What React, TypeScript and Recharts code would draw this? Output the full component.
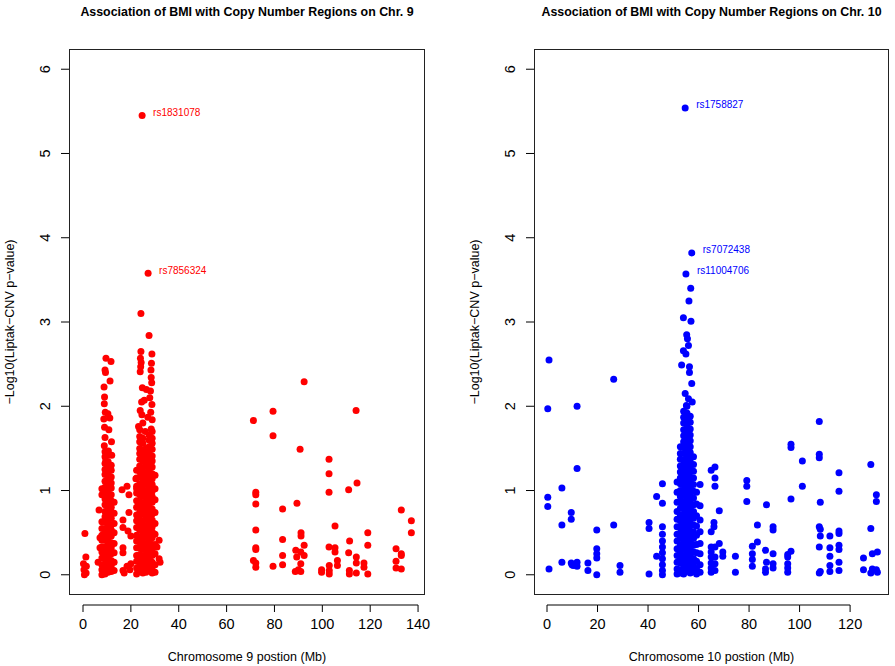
import React from "react"
import { ScatterChart, Scatter, XAxis, YAxis } from "recharts"

// ---- Chr. 9 (position in Mb, -log10 p) ----
const chr9Scattered: [number, number][] = [
  [0.8, 0.49], [1.2, 0.21], [0.2, 0.13], [1.4, 0.1], [0.4, 0.06], [1.3, 0.02], [0.6, 0.0],
  [6.7, 0.77], [7.1, 0.44], [7.1, 0.32], [6.3, 0.15],
  [16.3, 1.01], [18.4, 1.05], [19.2, 0.95], [19.2, 0.74], [16.7, 0.65], [16.7, 0.56], [18.8, 0.52],
  [20.0, 0.46], [16.7, 0.32], [16.7, 0.26], [20.0, 0.13], [18.4, 0.1], [16.7, 0.05], [17.2, 0.02], [19.6, 0.06],
  [31.8, 0.41], [31.8, 0.19], [32.2, 0.15], [30.9, 0.33],
  // column 1 upper tail
  [9.6, 2.57], [11.7, 2.53], [9.2, 2.43], [9.4, 2.4], [11.3, 2.3], [8.8, 2.23], [9.0, 2.11], [8.9, 2.03],
  [9.3, 1.93], [10.4, 1.91], [11.2, 1.86], [8.7, 1.85], [9.0, 1.75], [10.8, 1.72], [9.2, 1.63], [11.9, 1.58],
  [8.9, 1.53], [10.6, 1.47], [12.0, 1.42], [9.5, 1.35],
  // column 2 upper tail
  [24.2, 3.1], [27.6, 2.84],
  [24.2, 2.65], [28.8, 2.62], [24.0, 2.57], [24.3, 2.52], [28.6, 2.51], [24.1, 2.47], [28.4, 2.43], [23.9, 2.41],
  [28.5, 2.34], [28.7, 2.28], [24.8, 2.22], [26.5, 2.2], [28.2, 2.18], [27.9, 2.1], [25.6, 2.07], [24.5, 2.05],
  [28.8, 2.02], [23.9, 1.95], [28.3, 1.93], [24.6, 1.9], [27.1, 1.87], [28.9, 1.84], [25.0, 1.8], [23.2, 1.76],
  [28.5, 1.73], [26.0, 1.7], [22.1, 1.14], [22.4, 1.02],
  // 70 - 140 Mb
  [92.4, 2.29], [79.4, 1.94], [114.1, 1.95], [71.2, 1.83], [79.4, 1.65], [90.7, 1.49], [102.8, 1.37],
  [102.8, 1.2], [102.8, 0.98], [114.5, 1.09], [111.0, 1.01], [72.2, 0.98], [72.2, 0.95], [72.2, 0.84],
  [83.4, 0.78], [89.4, 0.85], [133.0, 0.77], [137.2, 0.64], [137.2, 0.5], [72.2, 0.53], [83.4, 0.42],
  [105.3, 0.58], [91.1, 0.5], [91.1, 0.46], [92.4, 0.35], [119.0, 0.5], [119.0, 0.35], [111.4, 0.4],
  [72.2, 0.32], [72.2, 0.3], [102.8, 0.33], [105.3, 0.32], [105.3, 0.27], [111.0, 0.26], [83.4, 0.23],
  [88.9, 0.29], [91.0, 0.27], [92.4, 0.23], [130.8, 0.31], [133.0, 0.25], [133.0, 0.23], [89.3, 0.21],
  [114.2, 0.21], [71.2, 0.17], [72.2, 0.14], [72.2, 0.09], [79.4, 0.1], [83.4, 0.12], [91.0, 0.13],
  [106.3, 0.17], [106.3, 0.11], [114.2, 0.14], [117.4, 0.14], [117.4, 0.09], [130.8, 0.16], [130.8, 0.08],
  [133.0, 0.07], [99.7, 0.06], [99.7, 0.03], [102.9, 0.11], [102.9, 0.05], [102.9, 0.01], [111.3, 0.05],
  [111.3, 0.01], [114.2, 0.02], [119.0, 0.01], [88.7, 0.04], [91.0, 0.04], [90.0, 0.06],
]

// dense core around 8-13 Mb
const chr9Core1X = [7.9, 9.2, 10.5, 11.8, 13.0]
const chr9Core1Y = [
  [1.02, 0.95, 0.63, 0.55, 0.47, 0.41, 0.33, 0.27, 0.2, 0.12, 0.06, 0.0],
  [1.46, 1.4, 1.32, 1.25, 1.19, 1.11, 1.04, 0.96, 0.9, 0.83, 0.75, 0.69, 0.62, 0.54, 0.48, 0.41, 0.33, 0.27, 0.2, 0.13, 0.06, 0.01],
  [1.42, 1.34, 1.28, 1.21, 1.13, 1.07, 1.0, 0.92, 0.86, 0.79, 0.71, 0.65, 0.58, 0.5, 0.44, 0.37, 0.29, 0.23, 0.16, 0.09, 0.03],
  [1.3, 1.24, 1.16, 1.09, 1.03, 0.95, 0.88, 0.8, 0.74, 0.67, 0.59, 0.53, 0.46, 0.38, 0.32, 0.25, 0.17, 0.11, 0.04],
  [0.86, 0.73, 0.61, 0.5, 0.37, 0.26, 0.15, 0.05],
]

// dense core around 22-30 Mb
const chr9Core2X = [22.4, 23.7, 25.0, 26.3, 27.6, 28.9, 30.1]
const chr9Core2Y = [
  [1.24, 1.15, 1.05, 0.97, 0.88, 0.8, 0.71, 0.64, 0.56, 0.47, 0.4, 0.32, 0.23, 0.16, 0.08, 0.01],
  [1.72, 1.64, 1.58, 1.5, 1.44, 1.37, 1.29, 1.23, 1.16, 1.08, 1.02, 0.95, 0.87, 0.81, 0.74, 0.66, 0.6, 0.53, 0.45, 0.39, 0.32, 0.24, 0.18, 0.11, 0.04],
  [1.62, 1.56, 1.48, 1.41, 1.35, 1.27, 1.2, 1.14, 1.06, 0.99, 0.93, 0.85, 0.78, 0.72, 0.64, 0.57, 0.51, 0.43, 0.36, 0.3, 0.22, 0.15, 0.08, 0.02],
  [1.5, 1.42, 1.36, 1.29, 1.21, 1.15, 1.08, 1.0, 0.94, 0.87, 0.79, 0.73, 0.66, 0.58, 0.52, 0.45, 0.37, 0.31, 0.24, 0.16, 0.1, 0.03],
  [1.66, 1.6, 1.52, 1.45, 1.39, 1.31, 1.24, 1.18, 1.1, 1.03, 0.97, 0.89, 0.82, 0.76, 0.68, 0.61, 0.55, 0.47, 0.4, 0.34, 0.26, 0.19, 0.12, 0.05],
  [1.7, 1.62, 1.56, 1.49, 1.41, 1.35, 1.28, 1.2, 1.14, 1.07, 0.99, 0.93, 0.86, 0.78, 0.72, 0.65, 0.57, 0.51, 0.44, 0.36, 0.3, 0.23, 0.15, 0.09, 0.02],
  [1.18, 1.02, 0.89, 0.74, 0.61, 0.48, 0.36, 0.25, 0.12, 0.03],
]

const chr9Hits = [
  { snp: "rs1831078", x: 24.7, y: 5.45 },
  { snp: "rs7856324", x: 27.2, y: 3.58 },
]

// ---- Chr. 10 ----
const chr10Scattered: [number, number][] = [
  [0.8, 2.55], [0.3, 1.97], [11.9, 2.0], [26.4, 2.32], [11.9, 1.26], [5.9, 1.03], [0.3, 0.92], [0.3, 0.81],
  [9.6, 0.74], [9.6, 0.66], [5.9, 0.59], [26.4, 0.59], [19.7, 0.53], [19.7, 0.31], [19.7, 0.25], [19.7, 0.2],
  [0.8, 0.07], [5.9, 0.15], [9.6, 0.14], [10.4, 0.11], [11.9, 0.15], [11.9, 0.1], [16.2, 0.14], [16.2, 0.05],
  [19.7, 0.0], [28.9, 0.11], [28.9, 0.03], [9.9, 0.12],
  [40.4, 0.62], [40.4, 0.55], [40.4, 0.01], [43.4, 0.93], [43.4, 0.22],
  [45.7, 1.08], [45.7, 0.85], [45.7, 0.57], [45.7, 0.48], [45.7, 0.4], [45.7, 0.33], [45.7, 0.26], [45.7, 0.19],
  [45.7, 0.12], [45.7, 0.05], [45.7, 0.0],
  // cluster upper tail
  [56.9, 3.4], [56.2, 3.25], [54.0, 3.05], [57.0, 3.01], [55.3, 2.85], [55.6, 2.8], [56.0, 2.72], [54.0, 2.66],
  [55.0, 2.62], [53.3, 2.49], [56.4, 2.47], [56.4, 2.4], [57.3, 2.27], [54.7, 2.15], [56.0, 2.09], [57.5, 2.05],
  [55.2, 2.01],
  // right of cluster
  [60.6, 1.07], [60.6, 0.82], [60.6, 0.65], [60.6, 0.51], [60.6, 0.37], [60.6, 0.25], [60.6, 0.12], [60.6, 0.03],
  [65.0, 1.24], [66.5, 1.28], [66.5, 1.15], [66.5, 1.05], [68.2, 0.76], [66.1, 0.62], [66.1, 0.57], [65.0, 0.51],
  [68.2, 0.37], [65.0, 0.33], [66.5, 0.33], [65.0, 0.27], [65.0, 0.21], [65.0, 0.14], [65.0, 0.08], [65.0, 0.03],
  [66.5, 0.21], [66.5, 0.13], [66.5, 0.05], [69.6, 0.27], [69.6, 0.22],
  [74.6, 0.22], [74.6, 0.03], [79.1, 1.12], [79.1, 1.05], [79.1, 0.87],
  [81.3, 0.34], [81.3, 0.25], [81.3, 0.18], [81.3, 0.1], [83.3, 0.59], [83.3, 0.39],
  [86.9, 0.83], [86.5, 0.29], [86.9, 0.15], [86.5, 0.07], [86.5, 0.03],
  [89.5, 0.57], [89.5, 0.53], [89.5, 0.25], [89.5, 0.13], [89.5, 0.08],
  [95.3, 0.24], [95.3, 0.21], [95.3, 0.13], [95.3, 0.08], [95.3, 0.03], [96.6, 0.28], [96.6, 0.9],
  [96.6, 1.55], [96.6, 1.51], [101.1, 1.35], [101.1, 1.05],
  [107.8, 1.82], [107.8, 1.43], [107.8, 1.39], [108.2, 0.86], [107.8, 0.57], [108.2, 0.54], [108.2, 0.46],
  [107.8, 0.33], [108.2, 0.04], [107.8, 0.02],
  [112.0, 0.46], [112.0, 0.32], [112.0, 0.22], [112.0, 0.11], [112.0, 0.04],
  [115.6, 1.21], [115.6, 0.99], [115.6, 0.52], [115.6, 0.49], [115.6, 0.35], [115.6, 0.3], [115.6, 0.15], [115.6, 0.05],
  [125.3, 0.2], [125.3, 0.06], [128.2, 1.31], [128.2, 0.55], [128.8, 0.25], [130.8, 0.27], [130.4, 0.95],
  [130.4, 0.87], [128.8, 0.07], [128.2, 0.02], [130.4, 0.06], [130.8, 0.03],
]

// dense core around 52-59 Mb
const chr10CoreX = [51.5, 52.8, 54.1, 55.4, 56.7, 58.0, 59.2]
const chr10CoreY = [
  [1.1, 0.98, 0.86, 0.75, 0.66, 0.57, 0.48, 0.4, 0.31, 0.23, 0.15, 0.07, 0.01],
  [1.52, 1.44, 1.37, 1.29, 1.22, 1.15, 1.08, 1.0, 0.93, 0.86, 0.79, 0.71, 0.64, 0.57, 0.5, 0.43, 0.35, 0.28, 0.21, 0.14, 0.06, 0.02],
  [1.94, 1.87, 1.8, 1.72, 1.65, 1.58, 1.51, 1.44, 1.36, 1.29, 1.22, 1.15, 1.08, 1.01, 0.94, 0.86, 0.79, 0.72, 0.65, 0.58, 0.51, 0.44, 0.37, 0.3, 0.22, 0.15, 0.08, 0.01],
  [2.0, 1.92, 1.85, 1.77, 1.7, 1.63, 1.56, 1.49, 1.41, 1.34, 1.27, 1.2, 1.13, 1.06, 0.98, 0.91, 0.84, 0.77, 0.7, 0.63, 0.55, 0.48, 0.41, 0.34, 0.27, 0.19, 0.12, 0.05],
  [1.88, 1.81, 1.73, 1.66, 1.59, 1.52, 1.45, 1.37, 1.3, 1.23, 1.16, 1.09, 1.02, 0.95, 0.88, 0.8, 0.73, 0.66, 0.59, 0.52, 0.45, 0.38, 0.3, 0.23, 0.16, 0.09, 0.02],
  [1.4, 1.31, 1.23, 1.15, 1.07, 0.99, 0.91, 0.83, 0.75, 0.67, 0.59, 0.51, 0.43, 0.35, 0.27, 0.19, 0.11, 0.04],
  [0.98, 0.84, 0.7, 0.58, 0.47, 0.36, 0.26, 0.16, 0.07, 0.01],
]

const chr10Hits = [
  { snp: "rs1758827", x: 54.7, y: 5.54 },
  { snp: "rs7072438", x: 57.3, y: 3.82 },
  { snp: "rs11004706", x: 55.0, y: 3.57 },
]

const yTicks = [0, 1, 2, 3, 4, 5, 6]
const chr9Ticks = [0, 20, 40, 60, 80, 100, 120, 140]
const chr10Ticks = [0, 20, 40, 60, 80, 100, 120]

const FONT = '"Liberation Sans", Arial, Helvetica, sans-serif'
const H = 666
const PLOT_TOP = 49
const PLOT_H = 546
const YAXIS_W = 40
const XAXIS_H = 40
const Y_DOMAIN: [number, number] = [-0.24, 6.24]
const TICK_FONT = 14.5

function toPoints(pairs: [number, number][], xs: number[], ys: number[][]) {
  const pts = pairs.map(([x, y]) => ({ x, y }))
  xs.forEach((x, i) => ys[i].forEach((y) => pts.push({ x, y })))
  return pts
}

interface PanelProps {
  left: number
  width: number
  plotLeft: number
  plotW: number
  xDomain: [number, number]
  xTicks: number[]
  color: string
  title: string
  xLabel: string
  data: { x: number; y: number }[]
  hits: { snp: string; x: number; y: number }[]
}

function Panel(p: PanelProps) {
  const localLeft = p.plotLeft - p.left
  const margin = {
    top: PLOT_TOP,
    left: localLeft - YAXIS_W,
    right: p.width - localLeft - p.plotW,
    bottom: H - PLOT_TOP - PLOT_H - XAXIS_H,
  }
  const stepPx = (p.plotW / (p.xDomain[1] - p.xDomain[0])) * (p.xTicks[1] - p.xTicks[0])
  const lastTick = p.xTicks[p.xTicks.length - 1]

  const XTick = (props: any) => {
    const { x, y, payload } = props
    const ay = y + 10
    return (
      <g>
        <line x1={x} x2={x} y1={ay} y2={ay + 7} stroke="#000" />
        {payload.value !== lastTick && <line x1={x} x2={x + stepPx} y1={ay} y2={ay} stroke="#000" />}
        <text x={x} y={ay + 19} textAnchor="middle" dominantBaseline="central" fontSize={TICK_FONT} fill="#000" fontFamily={FONT}>
          {payload.value}
        </text>
      </g>
    )
  }

  const YTick = (props: any) => {
    const { x, y, payload } = props
    const tx = x - 16
    return (
      <text x={tx} y={y} transform={`rotate(-90 ${tx} ${y})`} textAnchor="middle" dominantBaseline="central" fontSize={TICK_FONT} fill="#000" fontFamily={FONT}>
        {payload.value}
      </text>
    )
  }

  const dot = (props: any) => <circle cx={props.cx} cy={props.cy} r={3.5} fill={p.color} />
  const hitDot = (props: any) => (
    <g>
      <circle cx={props.cx} cy={props.cy} r={3.5} fill={p.color} />
      <text x={props.cx + 11} y={props.cy - 3} dominantBaseline="central" fontSize={10} fill={p.color} fontFamily={FONT}>
        {props.payload.snp}
      </text>
    </g>
  )

  return (
    <div style={{ position: "absolute", left: p.left, top: 0, width: p.width, height: H }}>
      <ScatterChart width={p.width} height={H} margin={margin}>
        <XAxis
          type="number"
          dataKey="x"
          domain={p.xDomain}
          allowDataOverflow
          ticks={p.xTicks}
          interval={0}
          height={XAXIS_H}
          axisLine={false}
          tickLine={false}
          tickSize={0}
          tickMargin={0}
          tick={XTick}
        />
        <YAxis
          type="number"
          dataKey="y"
          domain={Y_DOMAIN}
          allowDataOverflow
          ticks={yTicks}
          interval={0}
          width={YAXIS_W}
          axisLine={false}
          tickLine={{ stroke: "#000" }}
          tickSize={8}
          tickMargin={0}
          tick={YTick}
        />
        <Scatter data={p.data} shape={dot} isAnimationActive={false} />
        <Scatter data={p.hits} shape={hitDot} isAnimationActive={false} />
      </ScatterChart>
      <div
        style={{
          position: "absolute",
          left: localLeft,
          top: PLOT_TOP,
          width: p.plotW,
          height: PLOT_H,
          border: "1px solid #222",
          boxSizing: "border-box",
          pointerEvents: "none",
        }}
      />
      <div
        style={{
          position: "absolute",
          left: localLeft,
          width: p.plotW,
          top: 5,
          textAlign: "center",
          fontFamily: FONT,
          fontWeight: "bold",
          fontSize: 12.4,
          whiteSpace: "nowrap",
        }}
      >
        {p.title}
      </div>
      <div
        style={{
          position: "absolute",
          left: localLeft,
          width: p.plotW,
          top: 650,
          textAlign: "center",
          fontFamily: FONT,
          fontSize: 12.5,
          whiteSpace: "nowrap",
        }}
      >
        {p.xLabel}
      </div>
      <div
        style={{
          position: "absolute",
          left: localLeft - 59 - 150,
          width: 300,
          top: PLOT_TOP + PLOT_H / 2 - 8,
          height: 16,
          lineHeight: "16px",
          textAlign: "center",
          transform: "rotate(-90deg)",
          fontFamily: FONT,
          fontSize: 12.5,
          whiteSpace: "nowrap",
        }}
      >
        −Log10(Liptak−CNV p−value)
      </div>
    </div>
  )
}

export default function App() {
  const chr9Data = [...toPoints(chr9Scattered, chr9Core1X, chr9Core1Y), ...toPoints([], chr9Core2X, chr9Core2Y)]
  const chr10Data = toPoints(chr10Scattered, chr10CoreX, chr10CoreY)
  return (
    <div style={{ position: "absolute", left: 0, top: 0, width: 895, height: H, background: "#fff", overflow: "hidden" }}>
      <Panel
        left={0}
        width={447}
        plotLeft={69}
        plotW={356}
        xDomain={[-5.85, 142.9]}
        xTicks={chr9Ticks}
        color="#ff0000"
        title="Association of BMI with Copy Number Regions on Chr. 9"
        xLabel="Chromosome 9 postion (Mb)"
        data={chr9Data}
        hits={chr9Hits}
      />
      <Panel
        left={447}
        width={448}
        plotLeft={534}
        plotW={355}
        xDomain={[-5.15, 135.4]}
        xTicks={chr10Ticks}
        color="#0000ff"
        title="Association of BMI with Copy Number Regions on Chr. 10"
        xLabel="Chromosome 10 postion (Mb)"
        data={chr10Data}
        hits={chr10Hits}
      />
    </div>
  )
}
